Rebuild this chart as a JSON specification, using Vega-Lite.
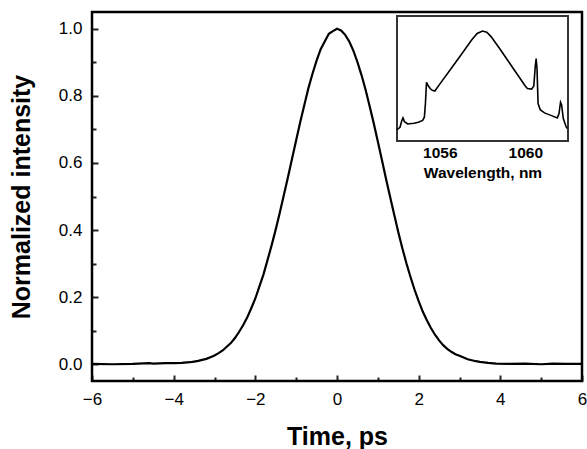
{
  "$schema": "https://vega.github.io/schema/vega-lite/v6.json",
  "width": 490,
  "height": 369,
  "autosize": {"type": "none"},
  "padding": {"left": 92, "top": 12, "right": 5, "bottom": 68},
  "background": "white",
  "config": {
    "view": {"stroke": null},
    "font": "Liberation Sans",
    "axis": {"labelColor": "black", "titleColor": "black", "tickColor": "#222", "domain": false, "grid": false, "labelFont": "Liberation Sans", "titleFont": "Liberation Sans"}
  },
  "datasets": {
    "pulse": [
      {"t": -6.0, "v": 0.001}, {"t": -5.5, "v": 0.0}, {"t": -5.0, "v": 0.001}, {"t": -4.6, "v": 0.003}, {"t": -4.5, "v": 0.002},
      {"t": -4.2, "v": 0.003}, {"t": -4.0, "v": 0.003}, {"t": -3.8, "v": 0.004}, {"t": -3.6, "v": 0.006},
      {"t": -3.5, "v": 0.008}, {"t": -3.4, "v": 0.010}, {"t": -3.3, "v": 0.013}, {"t": -3.2, "v": 0.016}, {"t": -3.1, "v": 0.021},
      {"t": -3.0, "v": 0.026}, {"t": -2.9, "v": 0.033}, {"t": -2.8, "v": 0.041}, {"t": -2.7, "v": 0.052}, {"t": -2.6, "v": 0.063},
      {"t": -2.5, "v": 0.078}, {"t": -2.4, "v": 0.096}, {"t": -2.3, "v": 0.116}, {"t": -2.2, "v": 0.139}, {"t": -2.1, "v": 0.167},
      {"t": -2.0, "v": 0.196}, {"t": -1.9, "v": 0.232}, {"t": -1.8, "v": 0.268}, {"t": -1.7, "v": 0.311}, {"t": -1.6, "v": 0.355},
      {"t": -1.5, "v": 0.402}, {"t": -1.4, "v": 0.452}, {"t": -1.3, "v": 0.505}, {"t": -1.2, "v": 0.558}, {"t": -1.1, "v": 0.613},
      {"t": -1.0, "v": 0.668}, {"t": -0.9, "v": 0.722}, {"t": -0.8, "v": 0.773}, {"t": -0.7, "v": 0.823}, {"t": -0.6, "v": 0.866},
      {"t": -0.5, "v": 0.905}, {"t": -0.4, "v": 0.939}, {"t": -0.3, "v": 0.962}, {"t": -0.2, "v": 0.985}, {"t": -0.1, "v": 0.993},
      {"t": 0.0, "v": 1.0}, {"t": 0.1, "v": 0.995}, {"t": 0.2, "v": 0.982}, {"t": 0.3, "v": 0.962}, {"t": 0.4, "v": 0.935},
      {"t": 0.5, "v": 0.901}, {"t": 0.6, "v": 0.862}, {"t": 0.7, "v": 0.818}, {"t": 0.8, "v": 0.769}, {"t": 0.9, "v": 0.718},
      {"t": 1.0, "v": 0.664}, {"t": 1.1, "v": 0.609}, {"t": 1.2, "v": 0.553}, {"t": 1.3, "v": 0.499}, {"t": 1.4, "v": 0.446},
      {"t": 1.5, "v": 0.394}, {"t": 1.6, "v": 0.346}, {"t": 1.7, "v": 0.301}, {"t": 1.8, "v": 0.260}, {"t": 1.9, "v": 0.222},
      {"t": 2.0, "v": 0.188}, {"t": 2.1, "v": 0.157}, {"t": 2.2, "v": 0.131}, {"t": 2.3, "v": 0.108}, {"t": 2.4, "v": 0.088},
      {"t": 2.5, "v": 0.071}, {"t": 2.6, "v": 0.057}, {"t": 2.7, "v": 0.046}, {"t": 2.8, "v": 0.037}, {"t": 2.9, "v": 0.030},
      {"t": 3.0, "v": 0.025}, {"t": 3.1, "v": 0.020}, {"t": 3.2, "v": 0.015}, {"t": 3.3, "v": 0.012}, {"t": 3.4, "v": 0.009},
      {"t": 3.5, "v": 0.007}, {"t": 3.7, "v": 0.004}, {"t": 3.9, "v": 0.002}, {"t": 4.2, "v": 0.001}, {"t": 4.6, "v": 0.002},
      {"t": 5.0, "v": 0.0}, {"t": 5.3, "v": 0.002}, {"t": 5.6, "v": 0.001}, {"t": 6.0, "v": 0.001}
    ],
    "spectrum": [
      {"w": 1054.0, "i": 0.09}, {"w": 1054.14, "i": 0.11}, {"w": 1054.22, "i": 0.16}, {"w": 1054.28, "i": 0.185},
      {"w": 1054.35, "i": 0.155}, {"w": 1054.5, "i": 0.136}, {"w": 1054.8, "i": 0.142}, {"w": 1055.0, "i": 0.15},
      {"w": 1055.2, "i": 0.165}, {"w": 1055.28, "i": 0.19}, {"w": 1055.33, "i": 0.30}, {"w": 1055.38, "i": 0.47},
      {"w": 1055.42, "i": 0.455}, {"w": 1055.47, "i": 0.44}, {"w": 1055.55, "i": 0.42}, {"w": 1055.65, "i": 0.405},
      {"w": 1055.77, "i": 0.40}, {"w": 1056.0, "i": 0.455}, {"w": 1056.5, "i": 0.572}, {"w": 1057.0, "i": 0.69},
      {"w": 1057.5, "i": 0.81}, {"w": 1057.75, "i": 0.86}, {"w": 1058.0, "i": 0.88}, {"w": 1058.2, "i": 0.87},
      {"w": 1058.4, "i": 0.835}, {"w": 1058.8, "i": 0.74}, {"w": 1059.2, "i": 0.64}, {"w": 1059.6, "i": 0.54},
      {"w": 1060.0, "i": 0.44}, {"w": 1060.1, "i": 0.42}, {"w": 1060.3, "i": 0.415}, {"w": 1060.4, "i": 0.44},
      {"w": 1060.47, "i": 0.60}, {"w": 1060.51, "i": 0.66}, {"w": 1060.55, "i": 0.58}, {"w": 1060.6, "i": 0.30},
      {"w": 1060.7, "i": 0.25}, {"w": 1060.9, "i": 0.225}, {"w": 1061.2, "i": 0.205}, {"w": 1061.5, "i": 0.185},
      {"w": 1061.58, "i": 0.22}, {"w": 1061.65, "i": 0.31}, {"w": 1061.7, "i": 0.29}, {"w": 1061.78, "i": 0.18},
      {"w": 1061.9, "i": 0.12}, {"w": 1061.95, "i": 0.10}
    ]
  },
  "layer": [
    {
      "data": {"values": [{}]},
      "mark": {"type": "rect", "filled": false, "fill": "transparent", "stroke": "black", "strokeWidth": 2.5, "opacity": 1},
      "encoding": {
        "x": {"datum": -6, "type": "quantitative", "scale": {"domain": [-6, 6], "nice": false, "zero": false}, "axis": null},
        "x2": {"datum": 6},
        "y": {"datum": -0.05, "type": "quantitative", "scale": {"domain": [-0.05, 1.05], "nice": false, "zero": false}, "axis": null},
        "y2": {"datum": 1.05}
      }
    },
    {
      "data": {"name": "pulse"},
      "mark": {"type": "line", "color": "black", "strokeWidth": 2.2, "interpolate": "linear"},
      "encoding": {
        "x": {"field": "t", "type": "quantitative", "scale": {"domain": [-6, 6], "nice": false, "zero": false},
              "axis": {"orient": "bottom", "values": [-6, -4, -2, 0, 2, 4, 6], "tickSize": -6, "tickWidth": 2, "labelPadding": 16, "labelFontSize": 17, "labelFlush": false,
                       "title": "Time, ps", "titleFontSize": 25, "titleFontWeight": "bold", "titlePadding": 17}},
        "y": {"field": "v", "type": "quantitative", "scale": {"domain": [-0.05, 1.05], "nice": false, "zero": false},
              "axis": {"orient": "left", "values": [0, 0.2, 0.4, 0.6, 0.8, 1.0], "format": ".1f", "tickSize": -6, "tickWidth": 2, "labelPadding": 16, "labelFontSize": 17,
                       "title": "Normalized intensity", "titleFontSize": 25, "titleFontWeight": "bold", "titlePadding": 24}}
      }
    },
    {
      "data": {"name": "pulse"},
      "mark": {"type": "point", "opacity": 0},
      "encoding": {
        "x": {"field": "t", "type": "quantitative", "scale": {"domain": [-6, 6], "nice": false, "zero": false},
              "axis": {"orient": "bottom", "values": [-5, -3, -1, 1, 3, 5], "tickSize": -4, "tickWidth": 2, "labels": false, "title": null}},
        "y": {"field": "v", "type": "quantitative", "scale": {"domain": [-0.05, 1.05], "nice": false, "zero": false},
              "axis": {"orient": "left", "values": [0.1, 0.3, 0.5, 0.7, 0.9], "tickSize": -4, "tickWidth": 2, "labels": false, "title": null}}
      }
    },
    {
      "layer": [
        {
          "data": {"values": [{}]},
          "mark": {"type": "rect", "fill": "white", "stroke": "#333", "strokeWidth": 2},
          "encoding": {
            "x": {"datum": 1054, "type": "quantitative", "scale": {"domain": [1054, 1062], "range": [305, 476], "nice": false, "zero": false},
                  "axis": {"orient": "bottom", "offset": -240, "values": [1056, 1060], "format": "d", "tickSize": -4, "tickWidth": 1.5, "labelPadding": 8, "labelFontSize": 15.5, "labelFontWeight": "bold",
                           "title": "Wavelength, nm", "titleFontSize": 15.5, "titleFontWeight": "bold", "titlePadding": 5}},
            "x2": {"datum": 1062},
            "y": {"datum": 0, "type": "quantitative", "scale": {"domain": [0, 1], "range": [129, 4], "nice": false, "zero": false}, "axis": null},
            "y2": {"datum": 1}
          }
        },
        {
          "data": {"name": "spectrum"},
          "mark": {"type": "line", "color": "black", "strokeWidth": 1.6},
          "encoding": {
            "x": {"field": "w", "type": "quantitative"},
            "y": {"field": "i", "type": "quantitative", "axis": null}
          }
        }
      ]
    }
  ],
  "resolve": {"scale": {"x": "independent", "y": "independent"}, "axis": {"x": "independent", "y": "independent"}}
}
